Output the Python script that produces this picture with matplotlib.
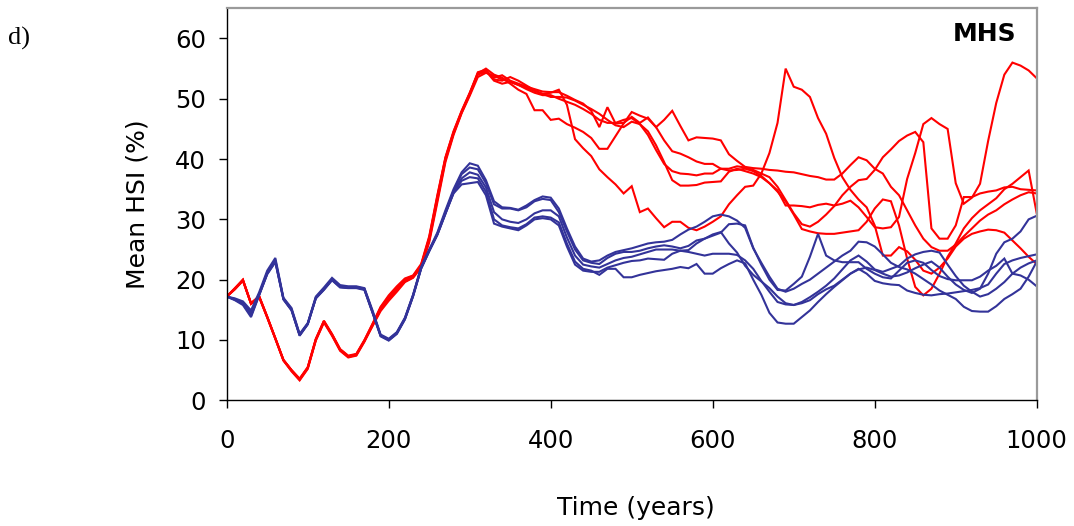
import numpy as np
import matplotlib
matplotlib.use("Agg")
import matplotlib.pyplot as plt

# Simulation time axis (years)
time_years = np.arange(0, 1001, 10)

# Mean HSI (%) for the red runs
red_a = [17.2, 18.4, 19.8, 16.0, 17.1, 13.7, 10.2, 6.6, 4.9, 3.4,
         5.3, 10.0, 13.0, 10.8, 8.3, 7.2, 7.5, 9.8, 12.3, 14.8,
         16.5, 18.0, 19.6, 20.3, 22.0, 26.2, 32.8, 39.5, 44.0, 47.6,
         50.5, 53.6, 54.3, 53.8, 53.2, 52.8, 52.3, 51.8, 51.3, 50.8,
         51.0, 51.5, 49.0, 43.3, 41.8, 40.5, 38.3, 37.0, 35.8, 34.3,
         35.5, 31.2, 31.8, 30.2, 28.7, 29.6, 29.6, 28.6, 28.2, 28.8,
         29.6, 30.5, 32.5, 34.0, 35.4, 35.6, 37.6, 41.0, 46.0, 55.0,
         52.0, 51.5, 50.3, 46.8, 44.2, 40.2, 37.0, 34.9, 33.3, 32.0,
         29.0, 24.0, 24.0, 25.4, 24.7, 23.3, 21.5, 21.0, 22.0, 23.5,
         25.5, 26.8, 27.6, 28.0, 28.3, 28.2, 27.8, 26.5, 25.2, 23.8,
         22.6]
red_b = [17.2, 18.5, 19.9, 16.1, 17.2, 13.8, 10.3, 6.7, 5.0, 3.5,
         5.4, 10.1, 13.1, 10.9, 8.4, 7.3, 7.6, 9.9, 12.5, 15.2,
         17.0, 18.5, 19.9, 20.5, 22.3, 26.8, 33.5, 40.0, 44.3, 47.8,
         50.8, 54.0, 54.5, 53.5, 53.9, 53.0, 52.5, 52.0, 51.6, 51.2,
         51.1, 51.1, 50.5, 49.8, 49.2, 48.0, 45.3, 48.6, 45.9, 46.0,
         47.0, 46.0, 46.9, 45.3, 43.1, 41.3, 40.9, 40.3, 39.6, 39.2,
         39.2, 38.4, 38.1, 38.2, 38.4, 38.0, 37.2, 36.0, 34.8, 32.3,
         32.3, 32.2, 32.0, 32.4, 32.6, 32.3, 32.6, 33.1, 32.0, 30.4,
         28.7, 28.5, 28.7, 30.4, 36.7, 41.0, 45.8, 46.8, 45.8, 45.0,
         36.0, 32.6, 33.6, 35.9, 43.0, 49.3, 54.0, 56.0, 55.5, 54.7,
         53.4]
red_c = [17.2, 18.6, 20.0, 16.0, 17.3, 13.9, 10.3, 6.7, 5.0, 3.6,
         5.5, 10.2, 13.2, 11.0, 8.5, 7.4, 7.7, 10.0, 12.7, 15.5,
         17.4, 18.9, 20.2, 20.7, 22.6, 27.2, 34.0, 40.3, 44.6, 48.0,
         51.0, 54.2, 54.6, 53.0, 52.5, 52.8, 52.3, 51.6, 51.0, 50.6,
         50.6, 50.0, 49.5, 49.0, 48.3, 47.5, 46.5, 46.0, 46.0, 46.5,
         46.8, 45.8, 44.6, 42.3, 39.5, 36.5, 35.6, 35.6, 35.7, 36.1,
         36.2, 36.3, 37.9, 38.4, 38.0, 37.6, 37.0, 36.0, 34.6, 33.0,
         30.8, 28.4, 28.0, 27.7, 27.6, 27.6, 27.8, 28.0, 28.2, 29.6,
         31.8, 33.3, 33.0, 29.0, 23.5, 18.8, 17.4, 18.5, 21.0, 23.8,
         26.0, 28.5, 30.2, 31.5, 32.5, 33.5, 35.0, 35.9, 37.0, 38.1,
         31.0]
red_d = [17.2, 18.5, 20.0, 16.1, 17.2, 13.8, 10.2, 6.6, 4.8, 3.3,
         5.2, 9.9, 12.9, 10.7, 8.2, 7.1, 7.4, 9.7, 12.4, 15.0,
         16.8, 18.3, 19.7, 20.4, 22.2, 26.5, 33.2, 39.8, 44.2, 47.7,
         50.7, 54.2, 55.0, 54.0, 53.5, 52.5, 51.5, 50.8, 48.1, 48.1,
         46.5, 46.7, 45.8, 45.2, 44.5, 43.5, 41.7, 41.7, 43.8, 45.9,
         47.8, 47.2, 46.7, 45.3, 46.5, 48.0, 45.5, 43.1, 43.6, 43.5,
         43.4, 43.1, 40.8, 39.7, 38.7, 38.5, 38.4, 38.2, 38.1, 37.9,
         37.8, 37.5, 37.2, 37.0, 36.6, 36.6, 37.6, 39.0, 40.3, 39.8,
         38.4, 37.6, 35.4, 34.0, 31.5, 29.0, 26.8, 25.4, 24.8, 24.8,
         25.8, 27.2, 28.5, 29.8, 30.8, 31.5, 32.5, 33.3, 34.0, 34.5,
         34.3]
red_e = [17.2, 18.4, 19.9, 16.0, 17.2, 13.8, 10.3, 6.7, 5.0, 3.5,
         5.4, 10.1, 13.1, 10.9, 8.4, 7.3, 7.6, 9.9, 12.6, 15.4,
         17.2, 18.7, 20.1, 20.6, 22.4, 27.0, 33.8, 40.2, 44.5, 47.9,
         50.9, 54.4, 54.8, 53.2, 53.0, 53.6, 53.0, 52.2, 51.4, 50.8,
         50.3, 50.3, 50.2, 49.7, 49.0, 48.3, 47.5, 46.5, 45.6, 45.3,
         46.2, 45.8, 44.0, 41.5, 39.2, 38.0, 37.6, 37.5, 37.3, 37.6,
         37.6, 38.4, 38.4, 38.8, 38.6, 38.2, 37.6, 37.0, 35.4, 33.2,
         31.0, 29.2, 28.8, 29.6, 30.8, 32.2, 34.0, 35.4, 36.5, 36.7,
         38.2, 40.3, 41.6, 43.0, 43.9, 44.5, 42.8, 28.5, 26.8, 26.8,
         29.0, 33.7, 33.7, 34.3, 34.6, 34.8, 35.3, 35.4, 35.0, 34.9,
         34.8]

# Mean HSI (%) for the blue runs
blue_a = [17.2, 16.9, 16.4, 14.9, 17.9, 21.5, 23.6, 17.0, 15.3, 11.0,
          12.8, 17.2, 18.7, 20.3, 19.1, 18.9, 18.9, 18.6, 14.9, 10.9,
          10.2, 11.3, 13.7, 17.5, 22.1, 25.0, 27.8, 31.5, 35.0, 37.8,
          39.3, 38.9, 36.5, 33.0, 32.0, 31.9, 31.6, 32.3, 33.2, 33.8,
          33.6, 31.8, 28.5, 25.5, 23.5, 23.0, 23.2, 24.0, 24.6, 24.9,
          25.2, 25.6, 26.0, 26.2, 26.3, 26.6, 27.5, 28.3, 28.8, 29.6,
          30.5, 30.8, 30.5, 29.8, 28.6, 25.2, 22.8, 20.5, 18.5, 18.0,
          18.5, 19.3, 20.0, 21.0, 22.0, 23.0, 24.0, 24.8, 26.3, 26.2,
          25.5, 24.2, 22.8, 22.1, 21.7, 21.0, 20.1, 19.2, 18.2, 17.5,
          16.8, 15.5, 14.8, 14.7, 14.7, 15.6, 16.8, 17.6, 18.5, 20.5,
          23.0]
blue_b = [17.2, 16.7, 16.2, 14.5, 17.6, 21.2, 23.3, 16.9, 15.1, 10.9,
          12.7, 17.0, 18.5, 20.1, 18.9, 18.8, 18.8, 18.5, 14.7, 10.8,
          10.1, 11.2, 13.6, 17.4, 22.0, 24.9, 27.6, 31.2, 34.7, 37.5,
          38.6, 38.3, 36.0, 32.5, 31.8, 31.8, 31.5, 32.0, 33.0, 33.4,
          33.2, 31.2, 28.0, 25.0, 23.2, 22.8, 22.6, 23.6, 24.3, 24.6,
          24.6, 24.8, 25.2, 25.5, 25.7, 25.5, 25.2, 25.6, 26.5, 26.8,
          27.3, 27.8, 29.2, 29.3, 29.0, 25.3, 22.5, 20.0, 18.3, 18.2,
          19.3, 20.5, 23.8, 27.6, 24.0, 23.2, 22.9, 22.9, 22.9, 21.8,
          21.0, 20.4, 20.2, 21.5, 22.8, 23.2, 22.8, 21.6, 20.6, 20.1,
          19.9, 19.9, 19.9, 20.5, 21.5, 22.3, 23.5, 21.0, 20.7, 20.0,
          18.9]
blue_c = [17.2, 16.8, 16.1, 14.2, 17.5, 21.0, 23.1, 16.8, 15.0, 10.8,
          12.6, 16.9, 18.4, 20.0, 18.8, 18.7, 18.7, 18.4, 14.6, 10.7,
          10.0, 11.1, 13.5, 17.3, 21.9, 24.8, 27.5, 31.0, 34.5, 36.8,
          37.8, 37.4, 35.3, 31.2, 30.0, 29.6, 29.4, 30.0, 31.0, 31.5,
          31.5, 30.5, 27.0, 24.0, 22.5, 22.2, 22.0, 22.6, 23.2, 23.6,
          23.8, 24.2, 24.6, 25.0, 25.0, 25.0, 24.8, 24.9, 26.0, 26.8,
          27.5, 27.9, 26.0, 24.5, 22.3, 20.8, 19.7, 18.6, 17.2, 16.1,
          15.8, 16.3, 17.1, 18.0, 19.0, 20.2, 21.7, 23.2, 24.0, 23.0,
          21.7, 21.3, 21.8, 22.3, 23.5, 24.2, 24.6, 24.8, 24.5, 22.5,
          20.6, 19.0, 18.0, 17.2, 17.6, 18.5, 19.6, 21.0, 22.0, 22.7,
          23.2]
blue_d = [17.2, 16.6, 15.8, 13.8, 17.4, 20.9, 22.9, 16.7, 14.9, 10.7,
          12.6, 16.9, 18.3, 19.9, 18.7, 18.6, 18.6, 18.3, 14.5, 10.6,
          9.9, 11.0, 13.4, 17.2, 21.8, 24.7, 27.4, 30.9, 34.4, 36.4,
          37.0, 36.8, 34.6, 30.0, 29.0, 28.7, 28.5, 29.2, 30.3, 30.5,
          30.3, 29.5, 26.0, 23.0, 21.8, 21.5, 20.8, 21.8, 21.8, 20.4,
          20.4, 20.8, 21.1, 21.4, 21.6, 21.8, 22.1, 21.9, 22.6, 21.0,
          21.0, 21.9, 22.6, 23.2, 22.7, 20.0, 17.5, 14.5, 12.9, 12.7,
          12.7, 13.8, 14.9, 16.3, 17.6, 18.8, 19.9, 21.0, 21.8, 21.0,
          19.8, 19.4, 19.2, 19.1, 18.2, 17.8, 17.5, 17.4, 17.6, 17.7,
          17.9, 18.1, 18.3, 18.6, 19.2, 21.0, 22.6, 23.2, 23.6, 23.9,
          24.2]
blue_e = [17.2, 16.7, 16.0, 14.0, 17.5, 21.0, 23.0, 16.8, 15.0, 10.8,
          12.7, 17.0, 18.4, 20.0, 18.8, 18.7, 18.7, 18.4, 14.6, 10.7,
          10.0, 11.1, 13.5, 17.3, 21.9, 24.8, 27.5, 31.0, 34.3, 35.8,
          36.0, 36.2, 34.0, 29.3, 28.8, 28.5, 28.2, 29.0, 30.0, 30.2,
          30.0, 29.0, 25.5, 22.5, 21.5, 21.3, 21.3, 22.0, 22.4, 22.8,
          23.1, 23.2, 23.5, 23.4, 23.3, 24.3, 24.8, 24.6, 24.3, 24.0,
          24.3, 24.3, 24.3, 24.1, 23.2, 21.8, 19.8, 18.0, 16.3, 15.9,
          15.8, 16.1, 16.6, 17.6, 18.4, 19.0, 20.0, 21.0, 21.7, 22.0,
          21.6, 21.0, 20.5, 20.7, 21.2, 21.9, 22.5, 23.0, 22.0, 20.5,
          19.2, 18.3, 17.8, 18.5, 21.0, 24.3, 26.2, 26.8, 28.0, 30.0,
          30.6]

red_runs = [red_a, red_b, red_c, red_d, red_e]
blue_runs = [blue_a, blue_b, blue_c, blue_d, blue_e]

x_ticks = [0, 200, 400, 600, 800, 1000]
y_ticks = [0, 10, 20, 30, 40, 50, 60]

RED = "#ff0000"
BLUE = "#333399"

fig = plt.figure(figsize=(10.74, 5.26), dpi=100)
ax = fig.add_axes([0.2111, 0.239, 0.7542, 0.7452])

for run in red_runs:
    ax.plot(time_years, run, color=RED, lw=1.5, solid_joinstyle="miter")
for run in blue_runs:
    ax.plot(time_years, run, color=BLUE, lw=1.5, solid_joinstyle="miter")

ax.set_xlim(0, 1000)
ax.set_ylim(0, 65)
ax.set_xticks(x_ticks)
ax.set_yticks(y_ticks)

for side in ("left", "bottom"):
    ax.spines[side].set_color("black")
    ax.spines[side].set_linewidth(1.0)
for side in ("top", "right"):
    ax.spines[side].set_color("#9a9a9a")
    ax.spines[side].set_linewidth(1.6)

ax.tick_params(axis="both", direction="out", length=6, width=1.0,
               color="black", labelsize=17.5)
ax.tick_params(axis="x", pad=15)
ax.tick_params(axis="y", pad=9)

fig.text(137 / 1074, 1 - 204 / 526, "Mean HSI (%)", rotation=90,
         ha="center", va="center", fontsize=18)
fig.text(636 / 1074, 1 - 508 / 526, "Time (years)",
         ha="center", va="center", fontsize=18)
ax.text(0.975, 0.935, "MHS", transform=ax.transAxes, ha="right",
        va="center", fontsize=18, fontweight="bold")
fig.text(8 / 1074, 1 - 38 / 526, "d)", ha="left", va="center",
         fontsize=19, family="Liberation Serif")

fig.savefig("out.png", dpi=100)
